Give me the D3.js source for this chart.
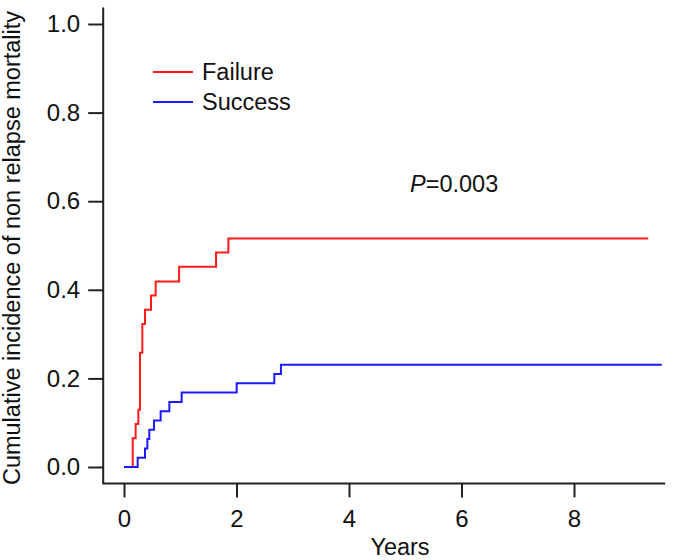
<!DOCTYPE html>
<html>
<head>
<meta charset="utf-8">
<script src="https://cdn.jsdelivr.net/npm/d3@7"></script>
<style>
  body { margin: 0; background: #fff; }
  svg { display: block; font-family: "Liberation Sans", Arial, Helvetica, sans-serif; }
  .tick text { font-size: 24px; fill: #111; }
</style>
</head>
<body>
<div id="chart"></div>
<script>
"use strict";

// step curves (time in years, cumulative incidence)
const failureTimes = [0, 0.155, 0.207, 0.255, 0.284, 0.326, 0.373, 0.48, 0.563, 0.98, 1.636, 1.855, 9.32];
const failureCI = [0, 0.065, 0.097, 0.129, 0.258, 0.323, 0.355, 0.387, 0.419, 0.452, 0.484, 0.516, 0.516];
const successTimes = [0, 0.243, 0.373, 0.415, 0.45, 0.533, 0.652, 0.806, 1.025, 2.003, 2.672, 2.79, 9.56];
const successCI = [0, 0.021, 0.042, 0.063, 0.084, 0.105, 0.126, 0.147, 0.168, 0.189, 0.21, 0.231, 0.231];

const xTicks = [0, 2, 4, 6, 8];
const yTicks = [0, 0.2, 0.4, 0.6, 0.8, 1.0];
const seriesNames = ["Failure", "Success"];
const seriesColors = ["#ff1a1a", "#1a1aff"];
const pLabel = "=0.003";

const W = 685, H = 560;
const fontSize = "23.5px";

const svg = d3.select("#chart").append("svg")
  .attr("width", W)
  .attr("height", H);

const x = d3.scaleLinear().domain([0, 8]).range([124, 574]);
const y = d3.scaleLinear().domain([0, 1]).range([467, 24]);

// L-shaped frame (R bty = "l"), slightly beyond the data range
const frameX = [-0.37, 9.62];
const frameY = [-0.037, 1.037];
svg.append("path")
  .attr("d", `M${x(frameX[0])},${y(frameY[1])}V${y(frameY[0])}H${x(frameX[1])}`)
  .attr("fill", "none")
  .attr("stroke", "#222")
  .attr("stroke-width", 2);

// y axis ticks
svg.append("g")
  .attr("transform", `translate(${x(frameX[0])},0)`)
  .call(d3.axisLeft(y).tickValues(yTicks).tickFormat(d3.format(".1f")).tickSize(15).tickPadding(8))
  .call((g) => g.select(".domain").remove())
  .call((g) => g.selectAll(".tick line").attr("stroke", "#222").attr("stroke-width", 2));

// x axis ticks
svg.append("g")
  .attr("transform", `translate(0,${y(frameY[0])})`)
  .call(d3.axisBottom(x).tickValues(xTicks).tickFormat(d3.format("d")).tickSize(14).tickPadding(13))
  .call((g) => g.select(".domain").remove())
  .call((g) => g.selectAll(".tick line").attr("stroke", "#222").attr("stroke-width", 2));

// axis titles
svg.append("text")
  .text("Years")
  .attr("x", 400)
  .attr("y", 555)
  .attr("text-anchor", "middle")
  .style("font-size", fontSize)
  .style("fill", "#111");

svg.append("text")
  .text("Cumulative incidence of non relapse mortality")
  .attr("transform", "translate(20,248) rotate(-90)")
  .attr("text-anchor", "middle")
  .style("font-size", fontSize)
  .style("fill", "#111");

// step curves
const line = d3.line()
  .x((d) => x(d[0]))
  .y((d) => y(d[1]))
  .curve(d3.curveStepAfter);

const series = [
  d3.zip(failureTimes, failureCI),
  d3.zip(successTimes, successCI),
];

svg.selectAll("path.curve")
  .data(series)
  .enter()
  .append("path")
  .attr("class", "curve")
  .attr("d", line)
  .attr("fill", "none")
  .attr("stroke", (d, i) => seriesColors[i])
  .attr("stroke-width", 2);

// legend
const legend = svg.selectAll("g.legend")
  .data(seriesNames)
  .enter()
  .append("g")
  .attr("class", "legend")
  .attr("transform", (d, i) => `translate(153,${72 + i * 30})`);

legend.append("line")
  .attr("x1", 0)
  .attr("x2", 40)
  .attr("stroke", (d, i) => seriesColors[i])
  .attr("stroke-width", 2);

legend.append("text")
  .text((d) => d)
  .attr("x", 49)
  .attr("y", 8)
  .style("font-size", fontSize)
  .style("fill", "#111");

// p-value
const p = svg.append("text")
  .attr("x", 410)
  .attr("y", 192)
  .style("font-size", fontSize)
  .style("fill", "#111");
p.append("tspan").text("P").style("font-style", "italic");
p.append("tspan").text(pLabel);
</script>
</body>
</html>
